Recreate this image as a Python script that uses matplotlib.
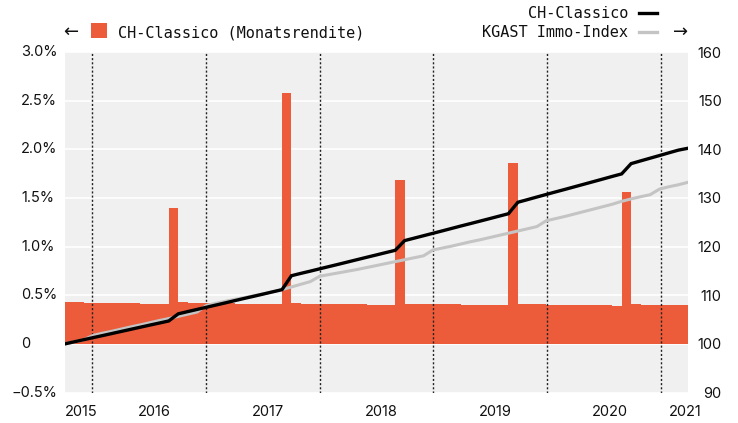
import numpy as np
import matplotlib.pyplot as plt
from matplotlib import transforms
from matplotlib.patches import Rectangle

# Monatsrendite CH-Classico in %, one bar per month
rendite = [0.43, 0.43, 0.42, 0.42, 0.42, 0.42, 0.42, 0.42, 0.41, 0.41, 0.41, 1.40,
           0.43, 0.42, 0.42, 0.42, 0.42, 0.42, 0.41, 0.41, 0.41, 0.41, 0.41, 2.58,
           0.42, 0.41, 0.41, 0.41, 0.41, 0.41, 0.41, 0.41, 0.40, 0.40, 0.40, 1.68,
           0.41, 0.41, 0.41, 0.41, 0.41, 0.41, 0.40, 0.40, 0.40, 0.40, 0.40, 1.86,
           0.413, 0.413, 0.413, 0.40, 0.40, 0.40, 0.40, 0.40, 0.40, 0.40, 0.39, 1.56,
           0.41, 0.40, 0.40, 0.40, 0.40, 0.40]

# Indexverlauf (Start = 100)
ch_classico = [100.0, 100.43, 100.86, 101.29, 101.71, 102.14, 102.57, 103.0, 103.43, 103.86, 104.28, 104.71,
               106.17, 106.63, 107.08, 107.53, 107.98, 108.43, 108.89, 109.34, 109.78, 110.23, 110.69, 111.14,
               114.01, 114.49, 114.95, 115.43, 115.9, 116.37, 116.85, 117.33, 117.81, 118.28, 118.76, 119.23,
               121.23, 121.73, 122.23, 122.73, 123.23, 123.74, 124.25, 124.74, 125.24, 125.74, 126.25, 126.75,
               129.11, 129.64, 130.18, 130.71, 131.24, 131.76, 132.29, 132.82, 133.35, 133.88, 134.42, 134.94,
               137.05, 137.61, 138.16, 138.71, 139.27, 139.82, 140.2]
kgast = [100.0, 100.4, 100.85, 101.75, 102.2, 102.6, 103.05, 103.5, 103.9, 104.35, 104.8, 105.2,
         105.65, 106.1, 106.55, 107.9, 108.35, 108.75, 109.15, 109.5, 109.9, 110.3, 110.7, 111.15,
         111.7, 112.25, 112.8, 113.9, 114.25, 114.6, 114.95, 115.3, 115.7, 116.1, 116.5, 116.9,
         117.3, 117.7, 118.1, 119.3, 119.7, 120.1, 120.55, 121.0, 121.4, 121.85, 122.3, 122.75,
         123.2, 123.65, 124.1, 125.3, 125.75, 126.2, 126.7, 127.2, 127.7, 128.2, 128.7, 129.3,
         129.8, 130.25, 130.65, 131.8, 132.3, 132.7, 133.2]

jahre = ['2015', '2016', '2017', '2018', '2019', '2020', '2021']
jahr_pos = [0, 9.5, 21.5, 33.5, 45.6, 57.7, 65.7]
jahreswechsel = [2.9, 14.95, 27.0, 39.05, 51.1, 63.2]

y_ticks = [-0.5, 0, 0.5, 1.0, 1.5, 2.0, 2.5, 3.0]
y_labels = ['\u22120.5%', '0', '0.5%', '1.0%', '1.5%', '2.0%', '2.5%', '3.0%']
y2_ticks = [90, 100, 110, 120, 130, 140, 150, 160]

ORANGE = '#ec5c3b'
BG = '#eff0ef'
W, H = 738, 423

plt.rcParams['font.family'] = ['Inter', 'DejaVu Sans']

fig = plt.figure(figsize=(W / 100, H / 100), dpi=100)
ax = fig.add_axes([65 / W, 1 - 392.5 / H, 622.7 / W, 340.5 / H])
ax.set_facecolor(BG)

months = np.arange(len(rendite))
ax.bar(months, rendite, width=1.0, align='edge', color=ORANGE, linewidth=0, zorder=2)

ax.set_xlim(0, len(rendite))
ax.set_ylim(-0.5, 3.0)
ax.set_yticks(y_ticks)
ax.set_yticklabels([])
ax.grid(axis='y', color='white', linewidth=1.2, zorder=1)
ax.set_axisbelow(True)
for x in jahreswechsel:
    ax.axvline(x, color='#222222', linestyle=(0, (1.5, 1.5)), linewidth=1.0, zorder=3)

for s in ax.spines.values():
    s.set_visible(False)
ax.tick_params(length=0)

ax.set_xticks(jahr_pos)
ax.set_xticklabels(jahre, fontsize=10.5, color='#111111')
ax.tick_params(axis='x', pad=9)
ax.get_xticklabels()[0].set_ha('left')

# linke Achse: linksbuendige Beschriftung
trans = transforms.blended_transform_factory(fig.transFigure, ax.transData)
for v, lab in zip(y_ticks, y_labels):
    xpos = 11.5 / W if lab.startswith('\u2212') else 21 / W
    ax.text(xpos, v, lab, transform=trans, ha='left', va='center',
            fontsize=10.5, color='#111111')

ax2 = ax.twinx()
ax2.set_ylim(90, 160)
ax2.set_yticks(y2_ticks)
ax2.tick_params(length=0, pad=24.5, labelsize=10.5, labelcolor='#111111')
for lab in ax2.get_yticklabels():
    lab.set_ha('right')
for s in ax2.spines.values():
    s.set_visible(False)

line_x = np.arange(len(ch_classico))
ax2.plot(line_x, kgast, color='#c4c4c4', linewidth=2.2, solid_joinstyle='miter', zorder=4)
ax2.plot(line_x, ch_classico, color='black', linewidth=2.4, solid_joinstyle='miter', zorder=5)
ax2.set_xlim(0, len(rendite))

# Legende
mono = 'DejaVu Sans Mono'
fig.text(71 / W, 1 - 32 / H, '\u2190', ha='center', va='center', fontsize=13,
         family='DejaVu Sans', color='#111111')
fig.patches.append(Rectangle((91 / W, 1 - 38.5 / H), 16 / W, 15 / H,
                             transform=fig.transFigure, facecolor=ORANGE, edgecolor='none'))
fig.text(118 / W, 1 - 37.7 / H, 'CH-Classico (Monatsrendite)', ha='left', va='baseline',
         fontsize=11, family=mono, color='#111111')

fig.text(628 / W, 1 - 18.3 / H, 'CH-Classico', ha='right', va='baseline',
         fontsize=11, family=mono, color='#111111')
fig.text(628 / W, 1 - 37.3 / H, 'KGAST Immo-Index', ha='right', va='baseline',
         fontsize=11, family=mono, color='#111111')
fig.lines.append(plt.Line2D([639 / W, 657 / W], [1 - 13 / H, 1 - 13 / H], transform=fig.transFigure,
                            color='black', linewidth=2.4))
fig.lines.append(plt.Line2D([639 / W, 657 / W], [1 - 32 / H, 1 - 32 / H], transform=fig.transFigure,
                            color='#c4c4c4', linewidth=2.4))
fig.text(681 / W, 1 - 32 / H, '\u2192', ha='center', va='center', fontsize=13,
         family='DejaVu Sans', color='#111111')

fig.savefig('out.png', dpi=100, facecolor='white')
